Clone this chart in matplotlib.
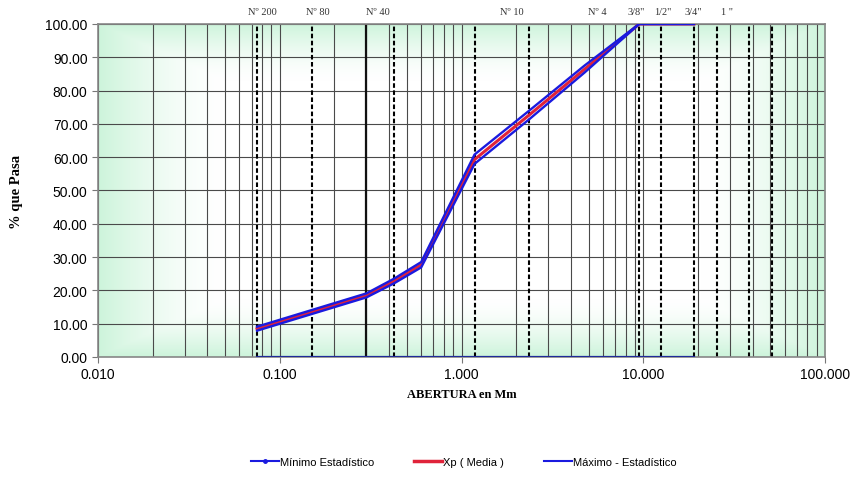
import numpy as np
import matplotlib.pyplot as plt
from matplotlib.colors import LinearSegmentedColormap
from matplotlib.lines import Line2D

# Curva granulométrica - tamices y porcentajes que pasan
abertura = [0.075, 0.15, 0.30, 0.425, 0.60, 1.18, 2.36, 4.75, 9.50, 12.50, 19.00]
minimo = [7.9, 12.9, 17.9, 22.1, 26.9, 58.0, 71.4, 85.4, 100.0, 100.0, 100.0]
media = [8.5, 13.5, 18.5, 22.8, 27.7, 59.3, 72.7, 86.4, 100.0, 100.0, 100.0]
maximo = [9.1, 14.1, 19.1, 23.5, 28.5, 60.8, 74.0, 87.5, 100.0, 100.0, 100.0]
base = [0.0] * len(abertura)

# lineas de tamices (punteadas) y rotulos arriba
tamices = [0.075, 0.15, 0.425, 1.18, 2.36, 9.5, 12.5, 19.0, 25.4, 38.1, 50.8]
rotulos = ['Nº 200', 'Nº 80', 'Nº 40', 'Nº 10', 'Nº 4', '3/8"', '1/2"', '3/4"', '1 "']
rotulos_x = [0.080, 0.162, 0.347, 1.90, 5.6, 9.2, 12.8, 18.8, 28.9]

fig = plt.figure(figsize=(8.53, 4.85), dpi=100)
ax = fig.add_axes([0.1149, 0.2619, 0.8523, 0.6866])
ax.set_xscale('log')
ax.set_xlim(0.01, 100)
ax.set_ylim(0, 100)

# fondo degradado verde -> blanco hacia el centro
u = np.linspace(0, 1, 400)
v = np.linspace(0, 1, 200)
U, V = np.meshgrid(u, v)
d = np.maximum(np.abs(U - 0.5) / 0.5, np.abs(V - 0.5) / 0.5)
d = np.clip((d - 0.65) / 0.35, 0, 1) ** 1.6
cmap = LinearSegmentedColormap.from_list('fondo', ['#ffffff', '#cdf4db'])
ax.imshow(d, cmap=cmap, extent=[0, 1, 0, 1], transform=ax.transAxes,
          aspect='auto', zorder=0, vmin=0, vmax=1)

# grilla
ax.grid(True, which='both', axis='x', color='#4a4a4a', linewidth=0.8, zorder=1)
ax.grid(True, which='major', axis='y', color='#4a4a4a', linewidth=0.8, zorder=1)
ax.axvline(0.3, color='#111111', linewidth=1.6, zorder=2)
for t in tamices:
    ax.axvline(t, color='black', linewidth=1.5, linestyle=(0, (2.2, 1.2)), zorder=2)

ax.plot(abertura, base, color='#1f2a9a', linewidth=1.6, zorder=3)
ax.plot(abertura, media, color='#e0233a', linewidth=2.2, zorder=4)
ax.plot(abertura, maximo, color='#1a1adf', linewidth=1.7, zorder=5)
ax.plot(abertura, minimo, color='#1a1adf', linewidth=1.7, zorder=5)

for r, xr in zip(rotulos, rotulos_x):
    ax.text(xr, 102.5, r, ha='center', va='bottom', fontsize=7.5,
            family='Liberation Serif', color='#333333')

ax.set_yticks(np.arange(0, 101, 10))
ax.set_yticklabels(['%.2f' % y for y in np.arange(0, 101, 10)],
                   family='Liberation Sans', fontsize=10)
ax.set_xticks([0.01, 0.1, 1, 10, 100])
ax.set_xticklabels(['0.010', '0.100', '1.000', '10.000', '100.000'],
                   family='Liberation Sans', fontsize=10)
ax.tick_params(axis='x', which='minor', length=0)
ax.tick_params(axis='both', which='major', length=4, color='#777777')
for s in ax.spines.values():
    s.set_color('#888888')
    s.set_linewidth(1.2)

ax.set_xlabel('ABERTURA en Mm', family='Liberation Serif', fontweight='bold',
              fontsize=9, labelpad=5)
ax.set_ylabel('% que Pasa', family='Liberation Serif', fontweight='bold',
              fontsize=10.5, labelpad=16)

handles = [Line2D([], [], color='#1a1adf', linewidth=1.5, marker='o', markersize=2.5),
           Line2D([], [], color='#e0233a', linewidth=2.5),
           Line2D([], [], color='#1a1adf', linewidth=1.5)]
fig.legend(handles, ['Mínimo Estadístico', 'Xp ( Media )', 'Máximo - Estadístico'],
           loc='center', bbox_to_anchor=(0.544, 0.045), ncol=3, frameon=False,
           prop={'family': 'Liberation Sans', 'size': 8}, handlelength=2.5,
           handletextpad=0.1, columnspacing=3.6)

plt.savefig('out.png', dpi=100)
